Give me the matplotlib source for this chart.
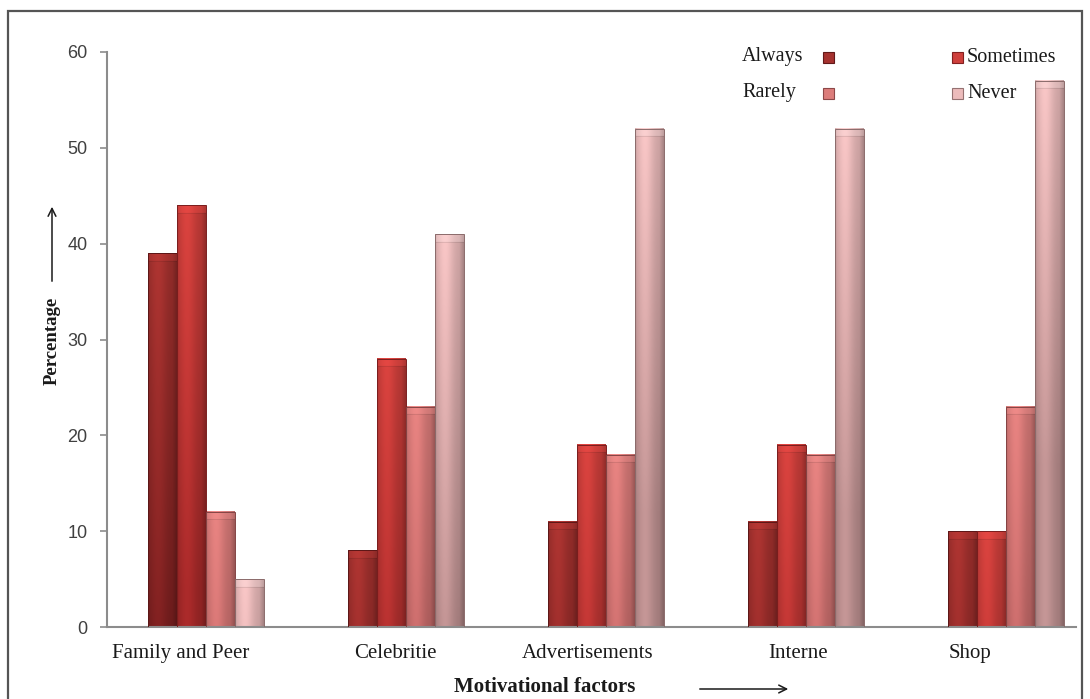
import numpy as np
import matplotlib
matplotlib.use("Agg")
import matplotlib.pyplot as plt
from matplotlib.patches import Rectangle, FancyArrowPatch
from matplotlib.colors import to_rgb

# ---- data -------------------------------------------------------------
categories = ["Family and Peer", "Celebritie", "Advertisements", "Interne", "Shop"]
series = ["Always", "Sometimes", "Rarely", "Never"]
always = [39, 8, 11, 11, 10]
sometimes = [44, 28, 19, 19, 10]
rarely = [12, 23, 18, 18, 23]
never = [5, 41, 52, 52, 57]
y_ticks = [0, 10, 20, 30, 40, 50, 60]

# ---- style ------------------------------------------------------------
# (light tone at the bar top, deep tone further down the bar)
tones = {
    "Always": ("#A5322F", "#7A1F1F"),
    "Sometimes": ("#CF403C", "#A22828"),
    "Rarely": ("#DC7D7B", "#B05A5A"),
    "Never": ("#ECBCBC", "#BA8E8E"),
}
label_nudge = [-0.125, -0.055, -0.09, -0.04, -0.18]
serif = "Liberation Serif"
sans = "Liberation Sans"

W, H = 1090, 699
fig = plt.figure(figsize=(W / 100, H / 100), dpi=100)


def fx(px):
    return px / W


def fy(py):
    return 1 - py / H


ax = fig.add_axes([fx(107), fy(627), fx(1076) - fx(107), fy(52) - fy(627)])


def shade(light, dark, h, cap=0.8):
    """Cylinder-like shading for one bar of height h (data units)."""
    light = np.array(to_rgb(light))
    dark = np.array(to_rgb(dark))
    ny = max(int(h * 12), 4)
    nx = 48
    y = (np.arange(ny) + 0.5) / ny * h
    u = (np.arange(nx) + 0.5) / nx
    t = np.clip((h - y) / 40.0, 0, 1)[:, None, None]
    base = light * (1 - t) + dark * t
    prof = 0.86 + 0.20 * np.exp(-((u - 0.35) / 0.30) ** 2)
    prof -= 0.16 * np.clip((u - 0.84) / 0.16, 0, 1)
    prof -= 0.08 * np.clip((0.08 - u) / 0.08, 0, 1)
    img = base * prof[None, :, None]
    # bevelled top cap
    c = min(cap, h * 0.5)
    in_cap = (y > h - c)[:, None]
    cap_lift = np.where(in_cap, 1.0, 0.0)[:, :, None]
    img = img * (1 - 0.25 * cap_lift) + 0.25 * cap_lift * np.minimum(light * 1.25, 1)
    edge = ((y > h - c - 0.15) & (y <= h - c))[:, None, None]
    img = np.where(edge, img * 0.86, img)
    return np.clip(img, 0, 1)


x = np.arange(len(categories))
bw = 0.145
for k, (name, vals) in enumerate(zip(series, [always, sometimes, rarely, never])):
    light, dark = tones[name]
    bars = ax.bar(x + (k - 1.5) * bw, vals, width=bw, facecolor="none",
                  edgecolor=np.array(to_rgb(dark)) * 0.75, linewidth=0.7, zorder=3)
    for b in bars:
        x0, w, h = b.get_x(), b.get_width(), b.get_height()
        ax.imshow(shade(light, dark, h), extent=[x0, x0 + w, 0, h], origin="lower",
                  aspect="auto", interpolation="bilinear", zorder=2)

ax.set_xlim(-0.495, 4.35)
ax.set_ylim(0, 60)
ax.set_yticks(y_ticks)
ax.set_yticklabels([str(v) for v in y_ticks], fontsize=13, family=sans, color="#404040")
ax.set_xticks(x + np.array(label_nudge))
ax.set_xticklabels(categories, fontsize=15, family=serif, color="#1a1a1a")
ax.tick_params(axis="y", direction="out", length=5, width=1.2, color="#8c8c8c", pad=9)
ax.tick_params(axis="x", length=0, pad=12)
for s in ["top", "right"]:
    ax.spines[s].set_visible(False)
for s in ["left", "bottom"]:
    ax.spines[s].set_color("#8c8c8c")
    ax.spines[s].set_linewidth(1.5)

# axis titles with arrows
fig.text(fx(545), fy(687), "Motivational factors", ha="center", va="center",
         fontsize=15, fontweight="bold", family=serif, color="#1a1a1a")
fig.text(fx(52), fy(341), "Percentage", ha="center", va="center", rotation=90,
         fontsize=13.5, fontweight="bold", family=serif, color="#1a1a1a")
fig.add_artist(FancyArrowPatch(
    (fx(697), fy(689)), (fx(791), fy(689)), transform=fig.transFigure,
    arrowstyle="->", mutation_scale=14, lw=1.1, color="#1a1a1a"))
fig.add_artist(FancyArrowPatch(
    (fx(52), fy(284)), (fx(52), fy(204)), transform=fig.transFigure,
    arrowstyle="->", mutation_scale=14, lw=1.1, color="#1a1a1a"))

# legend: text left of the key in the first column, right of it in the second
legend_spec = [
    ("Always", 742, 57, 828),
    ("Sometimes", 967, 57, 957.5),
    ("Rarely", 742, 93, 828),
    ("Never", 967, 93, 957.5),
]
for name, tx, ty, mx in legend_spec:
    light, dark = tones[name]
    fig.text(fx(tx), fy(ty), name, ha="left", va="center", fontsize=14.5,
             family=serif, color="#1a1a1a")
    fig.add_artist(Rectangle((fx(mx - 5.5), fy(ty + 6)), fx(11), 11 / H,
                             transform=fig.transFigure,
                             facecolor=light, edgecolor=np.array(to_rgb(dark)) * 0.8,
                             linewidth=0.8))

# outer frame (its lower edge runs past the bottom of the image)
fig.add_artist(Rectangle((fx(8), fy(720)), fx(1082) - fx(8), (720 - 11) / H,
                         transform=fig.transFigure, fill=False,
                         edgecolor="#555555", linewidth=1.6))

fig.savefig("out.png", dpi=100)
